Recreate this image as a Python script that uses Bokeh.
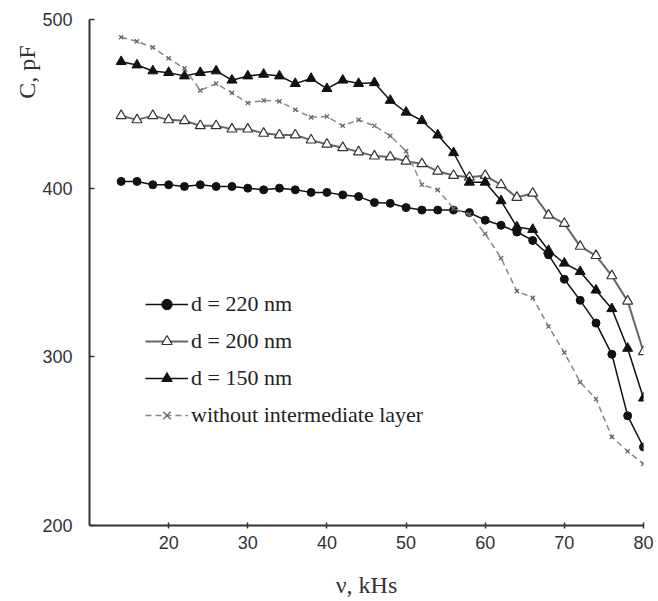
from bokeh.plotting import figure
from bokeh.models import Legend, LegendItem, Title, FixedTicker
from bokeh.embed import file_html
from bokeh.resources import INLINE

# Frequency, kHz
freq = [14, 16, 18, 20, 22, 24, 26, 28, 30, 32, 34, 36, 38, 40, 42, 44, 46,
        48, 50, 52, 54, 56, 58, 60, 62, 64, 66, 68, 70, 72, 74, 76, 78, 80]

# Capacitance, pF
c_220 = [404, 404, 402, 402, 401, 402, 401, 401, 400, 399, 400, 399, 397.5, 397.5, 396, 395, 391.5,
         391, 388.5, 387, 387, 387, 385.5, 381, 378, 374, 369, 360.5, 346, 333.5, 320, 301.5, 265, 246.5]
c_200 = [443, 440.5, 443, 440.5, 440, 437, 437, 435, 435, 432.5, 431.5, 431.5, 428.5, 426, 424, 421.5, 419,
         418.5, 416, 414.5, 410, 407.5, 406.5, 407.5, 402, 394.5, 397, 384, 379, 365.5, 360, 348, 333, 303]
c_150 = [475, 473, 469.5, 468.5, 466.5, 468.5, 469.5, 464, 466.5, 467.5, 466.5, 462, 465, 459, 464, 462, 462.5,
         452, 445, 440, 431.5, 421, 403.5, 403.5, 392.5, 377, 375.5, 363, 355.5, 350.5, 339.5, 328.5, 305, 275.5]
c_none = [489.5, 487, 483.5, 477, 471, 458, 462, 456.5, 450.5, 452, 451.5, 446.5, 442, 442.5, 437, 440.5, 437,
          431, 422, 402, 399, 388, 384.5, 373, 358.5, 339, 335, 318, 302.5, 285, 275, 252.5, 244, 236.5]

series_labels = ["d = 220 nm", "d = 200 nm", "d = 150 nm", "without intermediate layer"]
x_ticks = [20, 30, 40, 50, 60, 70, 80]
y_ticks = [200, 300, 400, 500]

p = figure(width=658, height=601, x_range=(10, 80), y_range=(200, 500),
           output_backend="svg", toolbar_location=None,
           min_border_left=89, min_border_right=15, min_border_top=19, min_border_bottom=76)
p.grid.visible = False
p.outline_line_color = None
p.background_fill_color = "white"
p.border_fill_color = "white"

for ax in (p.xaxis[0], p.yaxis[0]):
    ax.axis_line_color = "#333333"
    ax.axis_line_width = 2
    ax.major_tick_line_color = "#333333"
    ax.major_tick_line_width = 1.5
    ax.minor_tick_line_color = None
    ax.major_label_text_font = "Liberation Sans"
    ax.major_label_text_font_size = "18px"
    ax.major_label_text_color = "#333333"

p.xaxis.ticker = FixedTicker(ticks=x_ticks)
p.yaxis.ticker = FixedTicker(ticks=y_ticks)
p.xaxis.major_tick_in = 3
p.xaxis.major_tick_out = 3
p.xaxis.major_label_standoff = 7
p.yaxis.major_tick_in = 5
p.yaxis.major_tick_out = 0
p.yaxis.major_label_standoff = 17

p.xaxis.axis_label = "ν, kHs"
p.xaxis.axis_label_text_font = "Liberation Serif"
p.xaxis.axis_label_text_font_size = "24px"
p.xaxis.axis_label_text_font_style = "normal"
p.xaxis.axis_label_text_color = "#333333"
p.xaxis.axis_label_standoff = 20

# d = 220 nm
l1 = p.line(freq, c_220, line_color="#111111", line_width=1.5)
m1 = p.scatter(freq, c_220, marker="circle", size=8, fill_color="#111111", line_color="#111111")
# d = 200 nm
l2 = p.line(freq, c_200, line_color="#666666", line_width=2)
m2 = p.scatter(freq, c_200, marker="triangle", size=10, fill_color="white", line_color="#333333", line_width=1.2)
# d = 150 nm
l3 = p.line(freq, c_150, line_color="#111111", line_width=1.5)
m3 = p.scatter(freq, c_150, marker="triangle", size=10, fill_color="#111111", line_color="#111111")
# without intermediate layer
l4 = p.line(freq, c_none, line_color="#888888", line_width=1.5, line_dash="6 4")
m4 = p.scatter(freq, c_none, marker="x", size=6, line_color="#666666", line_width=1.3)

legend = Legend(items=[
    LegendItem(label=series_labels[0], renderers=[l1, m1]),
    LegendItem(label=series_labels[1], renderers=[l2, m2]),
    LegendItem(label=series_labels[2], renderers=[l3, m3]),
    LegendItem(label=series_labels[3], renderers=[l4, m4]),
], location=(56, 97))
legend.border_line_color = None
legend.background_fill_alpha = 0
legend.padding = 0
legend.margin = 0
legend.glyph_width = 43
legend.glyph_height = 26
legend.label_height = 26
legend.spacing = 11
legend.label_standoff = 3
legend.label_text_font = "Liberation Serif"
legend.label_text_font_size = "22px"
legend.label_text_color = "#222222"
p.add_layout(legend)

ytitle = Title(text="C, pF", align="right", offset=26, standoff=0,
               text_font="Liberation Serif", text_font_size="24px",
               text_font_style="normal", text_color="#333333")
p.add_layout(ytitle, "left")

open("out.html", "w").write(file_html(p, INLINE))
